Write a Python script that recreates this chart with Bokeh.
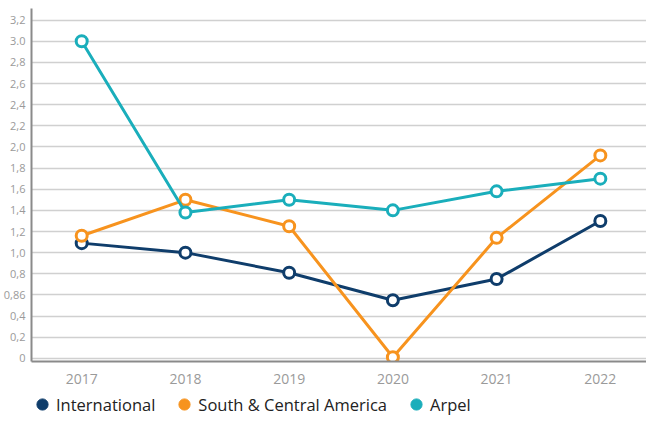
from bokeh.plotting import figure
from bokeh.layouts import column
from bokeh.models import FixedTicker, Legend, LegendItem, ColumnDataSource, Range1d
from bokeh.embed import file_html
from bokeh.resources import INLINE

years = [2017, 2018, 2019, 2020, 2021, 2022]
international = [1.09, 1.00, 0.81, 0.55, 0.75, 1.30]
south_central = [1.16, 1.50, 1.25, 0.01, 1.14, 1.92]
arpel = [3.00, 1.38, 1.50, 1.40, 1.58, 1.70]
series_names = ["International", "South & Central America", "Arpel"]
colors = ["#0f3d6b", "#f7931e", "#1aaebb"]
y_ticks = [0, 0.2, 0.4, 0.6, 0.8, 1.0, 1.2, 1.4, 1.6, 1.8, 2.0, 2.2, 2.4, 2.6, 2.8, 3.0, 3.2]
y_labels = ["0", "0,2", "0,4", "0,86", "0,8", "1,0", "1,2", "1,4", "1,6", "1,8",
            "2,0", "2,2", "2,4", "2,6", "2,8", "3.0", "3,2"]

FONT = "Open Sans"

p = figure(width=646, frame_height=353, output_backend="svg", toolbar_location=None,
           x_range=(2016.516, 2022.445), y_range=(-0.03, 3.31),
           min_border_left=5, min_border_right=0, min_border_top=8, min_border_bottom=0)
p.outline_line_color = None
p.xgrid.grid_line_color = None
p.ygrid.grid_line_color = "#d0d0d0"
p.ygrid.grid_line_width = 1.3

p.yaxis.ticker = FixedTicker(ticks=y_ticks)
p.yaxis.major_label_overrides = {t: l for t, l in zip(y_ticks, y_labels)}
p.xaxis.ticker = FixedTicker(ticks=years)
for ax in (p.xaxis, p.yaxis):
    ax.axis_line_color = "#8a8a8a"
    ax.axis_line_width = 2
    ax.major_tick_line_color = None
    ax.major_tick_out = 0
    ax.major_tick_in = 0
    ax.minor_tick_line_color = None
    ax.minor_tick_out = 0
    ax.major_label_text_color = "#9a9a9a"
    ax.major_label_text_font = FONT
p.yaxis.major_label_text_font_size = "11px"
p.xaxis.major_label_text_font_size = "14px"
p.yaxis.major_label_standoff = 6
p.xaxis.major_label_standoff = 12

for vals, c in zip([international, south_central, arpel], colors):
    src = ColumnDataSource(dict(x=years, y=vals))
    p.line("x", "y", source=src, line_color=c, line_width=3)
    p.scatter("x", "y", source=src, size=11, fill_color="white", line_color=c, line_width=3)

# legend strip below the chart
lg = figure(width=646, height=32, output_backend="svg", toolbar_location=None,
            x_range=Range1d(0, 1), y_range=Range1d(0, 1),
            min_border=0, x_axis_location=None, y_axis_location=None)
lg.outline_line_color = None
lg.grid.grid_line_color = None
items = []
for name, c in zip(series_names, colors):
    r = lg.scatter(x=[-10], y=[-10], size=15, fill_color=c, line_color=c)
    items.append(LegendItem(label=name, renderers=[r]))
legend = Legend(items=items, orientation="horizontal", location=(-3, 0),
                label_text_font=FONT, label_text_font_size="16.5px", label_text_color="#222222",
                glyph_width=28, glyph_height=28, spacing=15, label_standoff=0,
                border_line_color=None, background_fill_alpha=0, padding=0, margin=0)
lg.add_layout(legend, "center")

layout = column(p, lg, spacing=0)
open("out.html", "w").write(file_html(layout, INLINE))
